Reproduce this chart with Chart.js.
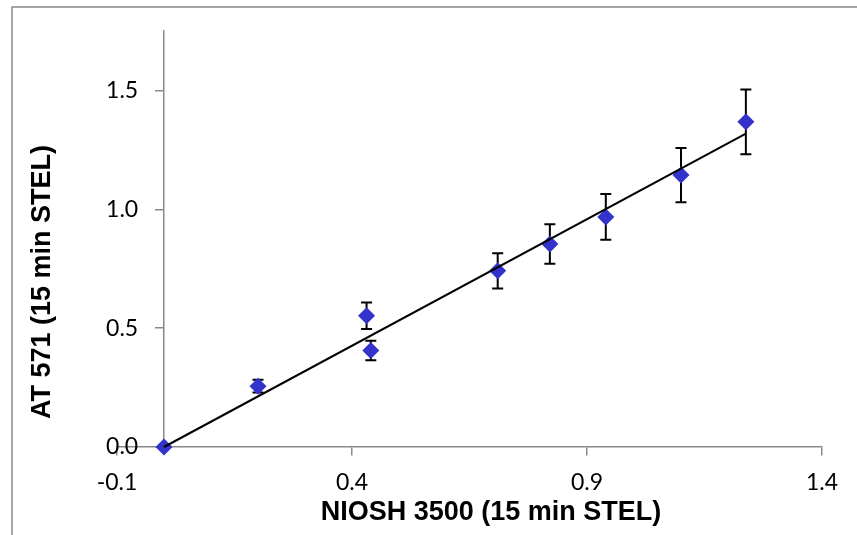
<!DOCTYPE html>
<html>
<head>
<meta charset="utf-8">
<script src="https://cdn.jsdelivr.net/npm/chart.js@4.4.0/dist/chart.umd.min.js"></script>
<style>
  body { margin: 0; background: #fff; }
</style>
</head>
<body>
<canvas id="grafica" width="857" height="535"></canvas>
<script>
// valores
const nioshX = [0, 0.200, 0.431, 0.440, 0.710, 0.821, 0.940, 1.100, 1.238]
const at571Y = [0, 0.256, 0.552, 0.406, 0.741, 0.854, 0.968, 1.144, 1.368]
const errorY = [0, 0.027, 0.056, 0.041, 0.074, 0.083, 0.096, 0.114, 0.136]
const trendX = [0, 1.238]
const trendY = [0, 1.318]
const xTicks = [-0.1, 0.4, 0.9, 1.4]
const xTickLabels = ["-0.1", "0.4", "0.9", "1.4"]
const yTicks = [0, 0.5, 1.0, 1.5]
const yTickLabels = ["0.0", "0.5", "1.0", "1.5"]
const xTitle = "NIOSH 3500 (15 min STEL)"
const yTitle = "AT 571 (15 min STEL)"

const gris = '#898989'
const fuenteTicks = { family: 'Lato, "Open Sans", sans-serif', size: 23 }
// el eje y cruza en x = 0, las etiquetas quedan un poco a la izquierda
const cruceY = 0
const etiquetasY = -0.055

// marco gris del grafico (solo borde izquierdo y superior se ven)
const marco = {
    id: 'marco',
    beforeDraw(chart) {
        const ctx = chart.ctx
        ctx.save()
        ctx.strokeStyle = gris
        ctx.lineWidth = 1.5
        ctx.beginPath()
        ctx.moveTo(12, 540)
        ctx.lineTo(12, 7)
        ctx.lineTo(860, 7)
        ctx.stroke()
        ctx.restore()
    }
}

const barrasError = {
    id: 'barrasError',
    beforeDatasetsDraw(chart) {
        const { ctx, scales: { x, y } } = chart
        ctx.save()
        ctx.strokeStyle = '#000'
        ctx.lineWidth = 2
        nioshX.forEach((vx, i) => {
            if (!errorY[i]) return
            const px = x.getPixelForValue(vx)
            const top = y.getPixelForValue(at571Y[i] + errorY[i])
            const bottom = y.getPixelForValue(at571Y[i] - errorY[i])
            ctx.beginPath()
            ctx.moveTo(px, top)
            ctx.lineTo(px, bottom)
            ctx.moveTo(px - 5.5, top)
            ctx.lineTo(px + 5.5, top)
            ctx.moveTo(px - 5.5, bottom)
            ctx.lineTo(px + 5.5, bottom)
            ctx.stroke()
        })
        ctx.restore()
    }
}

const titulos = {
    id: 'titulos',
    afterDraw(chart) {
        const ctx = chart.ctx
        ctx.save()
        ctx.fillStyle = '#000'
        ctx.font = 'bold 27px "Liberation Sans", Arial, sans-serif'
        ctx.textAlign = 'center'
        ctx.textBaseline = 'middle'
        ctx.fillText(xTitle, 491, 513)
        ctx.translate(43, 282)
        ctx.rotate(-Math.PI / 2)
        ctx.fillText(yTitle, 0, 0)
        ctx.restore()
    }
}

const ctx = document.getElementById('grafica')

const ticksY = axis => { axis.ticks = yTicks.map(v => ({ value: v })) }

let grafico = new Chart(ctx, {
    type: 'scatter',
    data: {
        datasets: [
            {
                label: 'Tendencia',
                data: trendX.map((vx, i) => ({ x: vx, y: trendY[i] })),
                showLine: true,
                borderColor: '#000',
                borderWidth: 2,
                pointRadius: 0,
                order: 0,
                clip: false
            },
            {
                label: 'AT 571',
                data: nioshX.map((vx, i) => ({ x: vx, y: at571Y[i] })),
                pointStyle: 'rectRot',
                pointRadius: 8.5,
                backgroundColor: '#3333CC',
                borderColor: '#3333CC',
                borderWidth: 0,
                order: 1,
                clip: false
            }
        ]
    },
    options: {
        responsive: false,
        animation: false,
        layout: { padding: { left: 117, right: 35, top: 31, bottom: 88 } },
        plugins: {
            legend: { display: false },
            tooltip: { enabled: false }
        },
        scales: {
            x: {
                type: 'linear',
                position: { y: 0 },
                min: -0.1,
                max: 1.4,
                afterBuildTicks: axis => { axis.ticks = xTicks.map(v => ({ value: v })) },
                ticks: {
                    color: '#000',
                    font: fuenteTicks,
                    padding: 14,
                    maxRotation: 0,
                    callback: (value, index) => xTickLabels[index]
                },
                grid: { drawOnChartArea: false, drawTicks: true, tickLength: 8, color: gris, lineWidth: 1.5 },
                border: { color: gris, width: 1.5 }
            },
            y: {
                type: 'linear',
                position: { x: cruceY },
                min: 0,
                max: 1.75,
                afterBuildTicks: ticksY,
                ticks: { display: false },
                grid: { drawOnChartArea: false, drawTicks: true, tickLength: 8, color: gris, lineWidth: 1.5 },
                border: { color: gris, width: 1.5 }
            },
            yEtiquetas: {
                axis: 'y',
                type: 'linear',
                position: { x: etiquetasY },
                min: 0,
                max: 1.75,
                afterBuildTicks: ticksY,
                ticks: {
                    color: '#000',
                    font: fuenteTicks,
                    callback: (value, index) => yTickLabels[index]
                },
                grid: { display: false },
                border: { display: false }
            }
        }
    },
    plugins: [marco, barrasError, titulos]
})
</script>
</body>
</html>
